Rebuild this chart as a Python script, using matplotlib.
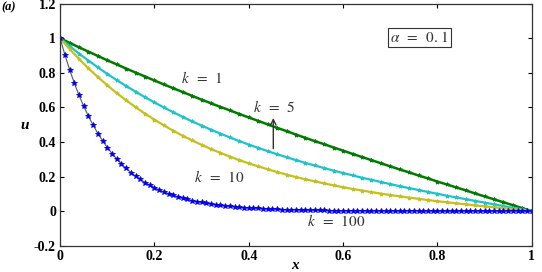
import numpy as np
import matplotlib.pyplot as plt
from matplotlib.ticker import FormatStrFormatter

plt.rcParams['mathtext.fontset'] = 'stix'

# x grids
x_smooth = np.linspace(0, 1, 51)   # step 0.02
x_k100 = np.linspace(0, 1, 101)    # step 0.01

# u values
u_k1 = [1.000, 0.974, 0.948, 0.923, 0.898, 0.873, 0.849, 0.825, 0.802, 0.779,
        0.756, 0.733, 0.711, 0.689, 0.667, 0.645, 0.624, 0.603, 0.583, 0.562,
        0.542, 0.522, 0.502, 0.482, 0.463, 0.443, 0.424, 0.405, 0.387, 0.368,
        0.350, 0.331, 0.313, 0.295, 0.277, 0.259, 0.241, 0.224, 0.206, 0.189,
        0.171, 0.154, 0.137, 0.120, 0.102, 0.085, 0.068, 0.051, 0.034, 0.017, 0.000]
u_k5 = [1.000, 0.955, 0.912, 0.871, 0.832, 0.794, 0.758, 0.724, 0.691, 0.659,
        0.629, 0.600, 0.572, 0.545, 0.519, 0.495, 0.471, 0.448, 0.426, 0.405,
        0.385, 0.366, 0.347, 0.329, 0.312, 0.295, 0.279, 0.264, 0.249, 0.234,
        0.220, 0.207, 0.193, 0.181, 0.168, 0.156, 0.144, 0.133, 0.122, 0.111,
        0.100, 0.089, 0.079, 0.069, 0.059, 0.049, 0.039, 0.029, 0.019, 0.010, 0.000]
u_k10 = [1.000, 0.938, 0.881, 0.826, 0.776, 0.728, 0.683, 0.641, 0.601, 0.564,
         0.529, 0.496, 0.465, 0.436, 0.409, 0.383, 0.359, 0.337, 0.315, 0.295,
         0.276, 0.259, 0.242, 0.226, 0.211, 0.197, 0.184, 0.172, 0.160, 0.149,
         0.138, 0.128, 0.119, 0.110, 0.101, 0.093, 0.085, 0.078, 0.071, 0.064,
         0.057, 0.051, 0.045, 0.039, 0.033, 0.027, 0.022, 0.016, 0.011, 0.005, 0.000]
u_k100 = [1.000, 0.905, 0.819, 0.741, 0.670, 0.607, 0.549, 0.497, 0.449, 0.407,
          0.368, 0.333, 0.301, 0.273, 0.247, 0.223, 0.202, 0.183, 0.165, 0.150,
          0.135, 0.122, 0.111, 0.100, 0.091, 0.082, 0.074, 0.067, 0.061, 0.055,
          0.050, 0.045, 0.041, 0.037, 0.033, 0.030, 0.027, 0.025, 0.022, 0.020,
          0.018, 0.017, 0.015, 0.014, 0.012, 0.011, 0.010, 0.009, 0.008, 0.007,
          0.007, 0.006, 0.006, 0.005, 0.005, 0.004, 0.004, 0.003, 0.003, 0.003,
          0.002, 0.002, 0.002, 0.002, 0.002, 0.002, 0.001, 0.001, 0.001, 0.001,
          0.001, 0.001, 0.001, 0.001, 0.001, 0.001, 0.001, 0.000, 0.000, 0.000,
          0.000, 0.000, 0.000, 0.000, 0.000, 0.000, 0.000, 0.000, 0.000, 0.000,
          0.000, 0.000, 0.000, 0.000, 0.000, 0.000, 0.000, 0.000, 0.000, 0.000, 0.000]

xticks = [0, 0.2, 0.4, 0.6, 0.8, 1]
yticks = [-0.2, 0, 0.2, 0.4, 0.6, 0.8, 1, 1.2]

fig = plt.figure(figsize=(5.42, 2.72), dpi=100)
ax = fig.add_axes([0.111, 0.097, 0.870, 0.889])

ax.plot(x_smooth, u_k1, color='#007a00', lw=1.8, marker='*', ms=3, mew=0.6)
ax.plot(x_smooth, u_k5, color='#1cc4c8', lw=1.6, marker='*', ms=3, mew=0.6)
ax.plot(x_smooth, u_k10, color='#c4c01c', lw=1.6, marker='*', ms=3, mew=0.6)
ax.plot(x_k100, u_k100, color='#555566', lw=0.8, marker='*', ms=4,
        mfc='#0000ee', mec='#0000ee', mew=0.6)

ax.set_xlim(0, 1)
ax.set_ylim(-0.2, 1.2)
ax.set_xticks(xticks)
ax.set_yticks(yticks)
ax.xaxis.set_major_formatter(FormatStrFormatter('%g'))
ax.yaxis.set_major_formatter(FormatStrFormatter('%g'))
ax.tick_params(direction='in', top=True, right=True, length=3, width=0.8,
               labelsize=10, pad=3)
for lab in ax.get_xticklabels() + ax.get_yticklabels():
    lab.set_fontfamily('Liberation Serif')
    lab.set_fontweight('bold')
for s in ax.spines.values():
    s.set_linewidth(0.9)
    s.set_color('#333333')

fig.text(0.046, 0.54, 'u', fontsize=11, fontweight='bold', style='italic',
         family='Liberation Serif', ha='center', va='center')
fig.text(0.545, 0.025, 'x', fontsize=11, fontweight='bold', style='italic',
         family='Liberation Serif', ha='center', va='center')
fig.text(0.002, 0.972, '(a)', fontsize=9, fontweight='bold', style='italic',
         family='Liberation Serif', ha='left', va='center')

tc = '#333333'
ax.text(0.30, 0.77, r'$k\;\;=\;\;1$', fontsize=11, color=tc, ha='center', va='center')
ax.text(0.455, 0.60, r'$k\;\;=\;\;5$', fontsize=11, color=tc, ha='center', va='center')
ax.text(0.338, 0.20, r'$k\;\;=\;\;10$', fontsize=11, color=tc, ha='center', va='center')
ax.text(0.585, -0.055, r'$k\;\;=\;\;100$', fontsize=11, color=tc, ha='center', va='center')
ax.annotate('', xy=(0.452, 0.555), xytext=(0.452, 0.345),
            arrowprops=dict(arrowstyle='->', color='#333333', lw=1.0))
ax.text(0.762, 1.005, r'$\alpha\;\;=\;\;0.\,1$', fontsize=11, color=tc,
        ha='center', va='center',
        bbox=dict(boxstyle='square,pad=0.15', fc='white', ec='#333333', lw=0.8))

fig.savefig('out.png', dpi=100)
